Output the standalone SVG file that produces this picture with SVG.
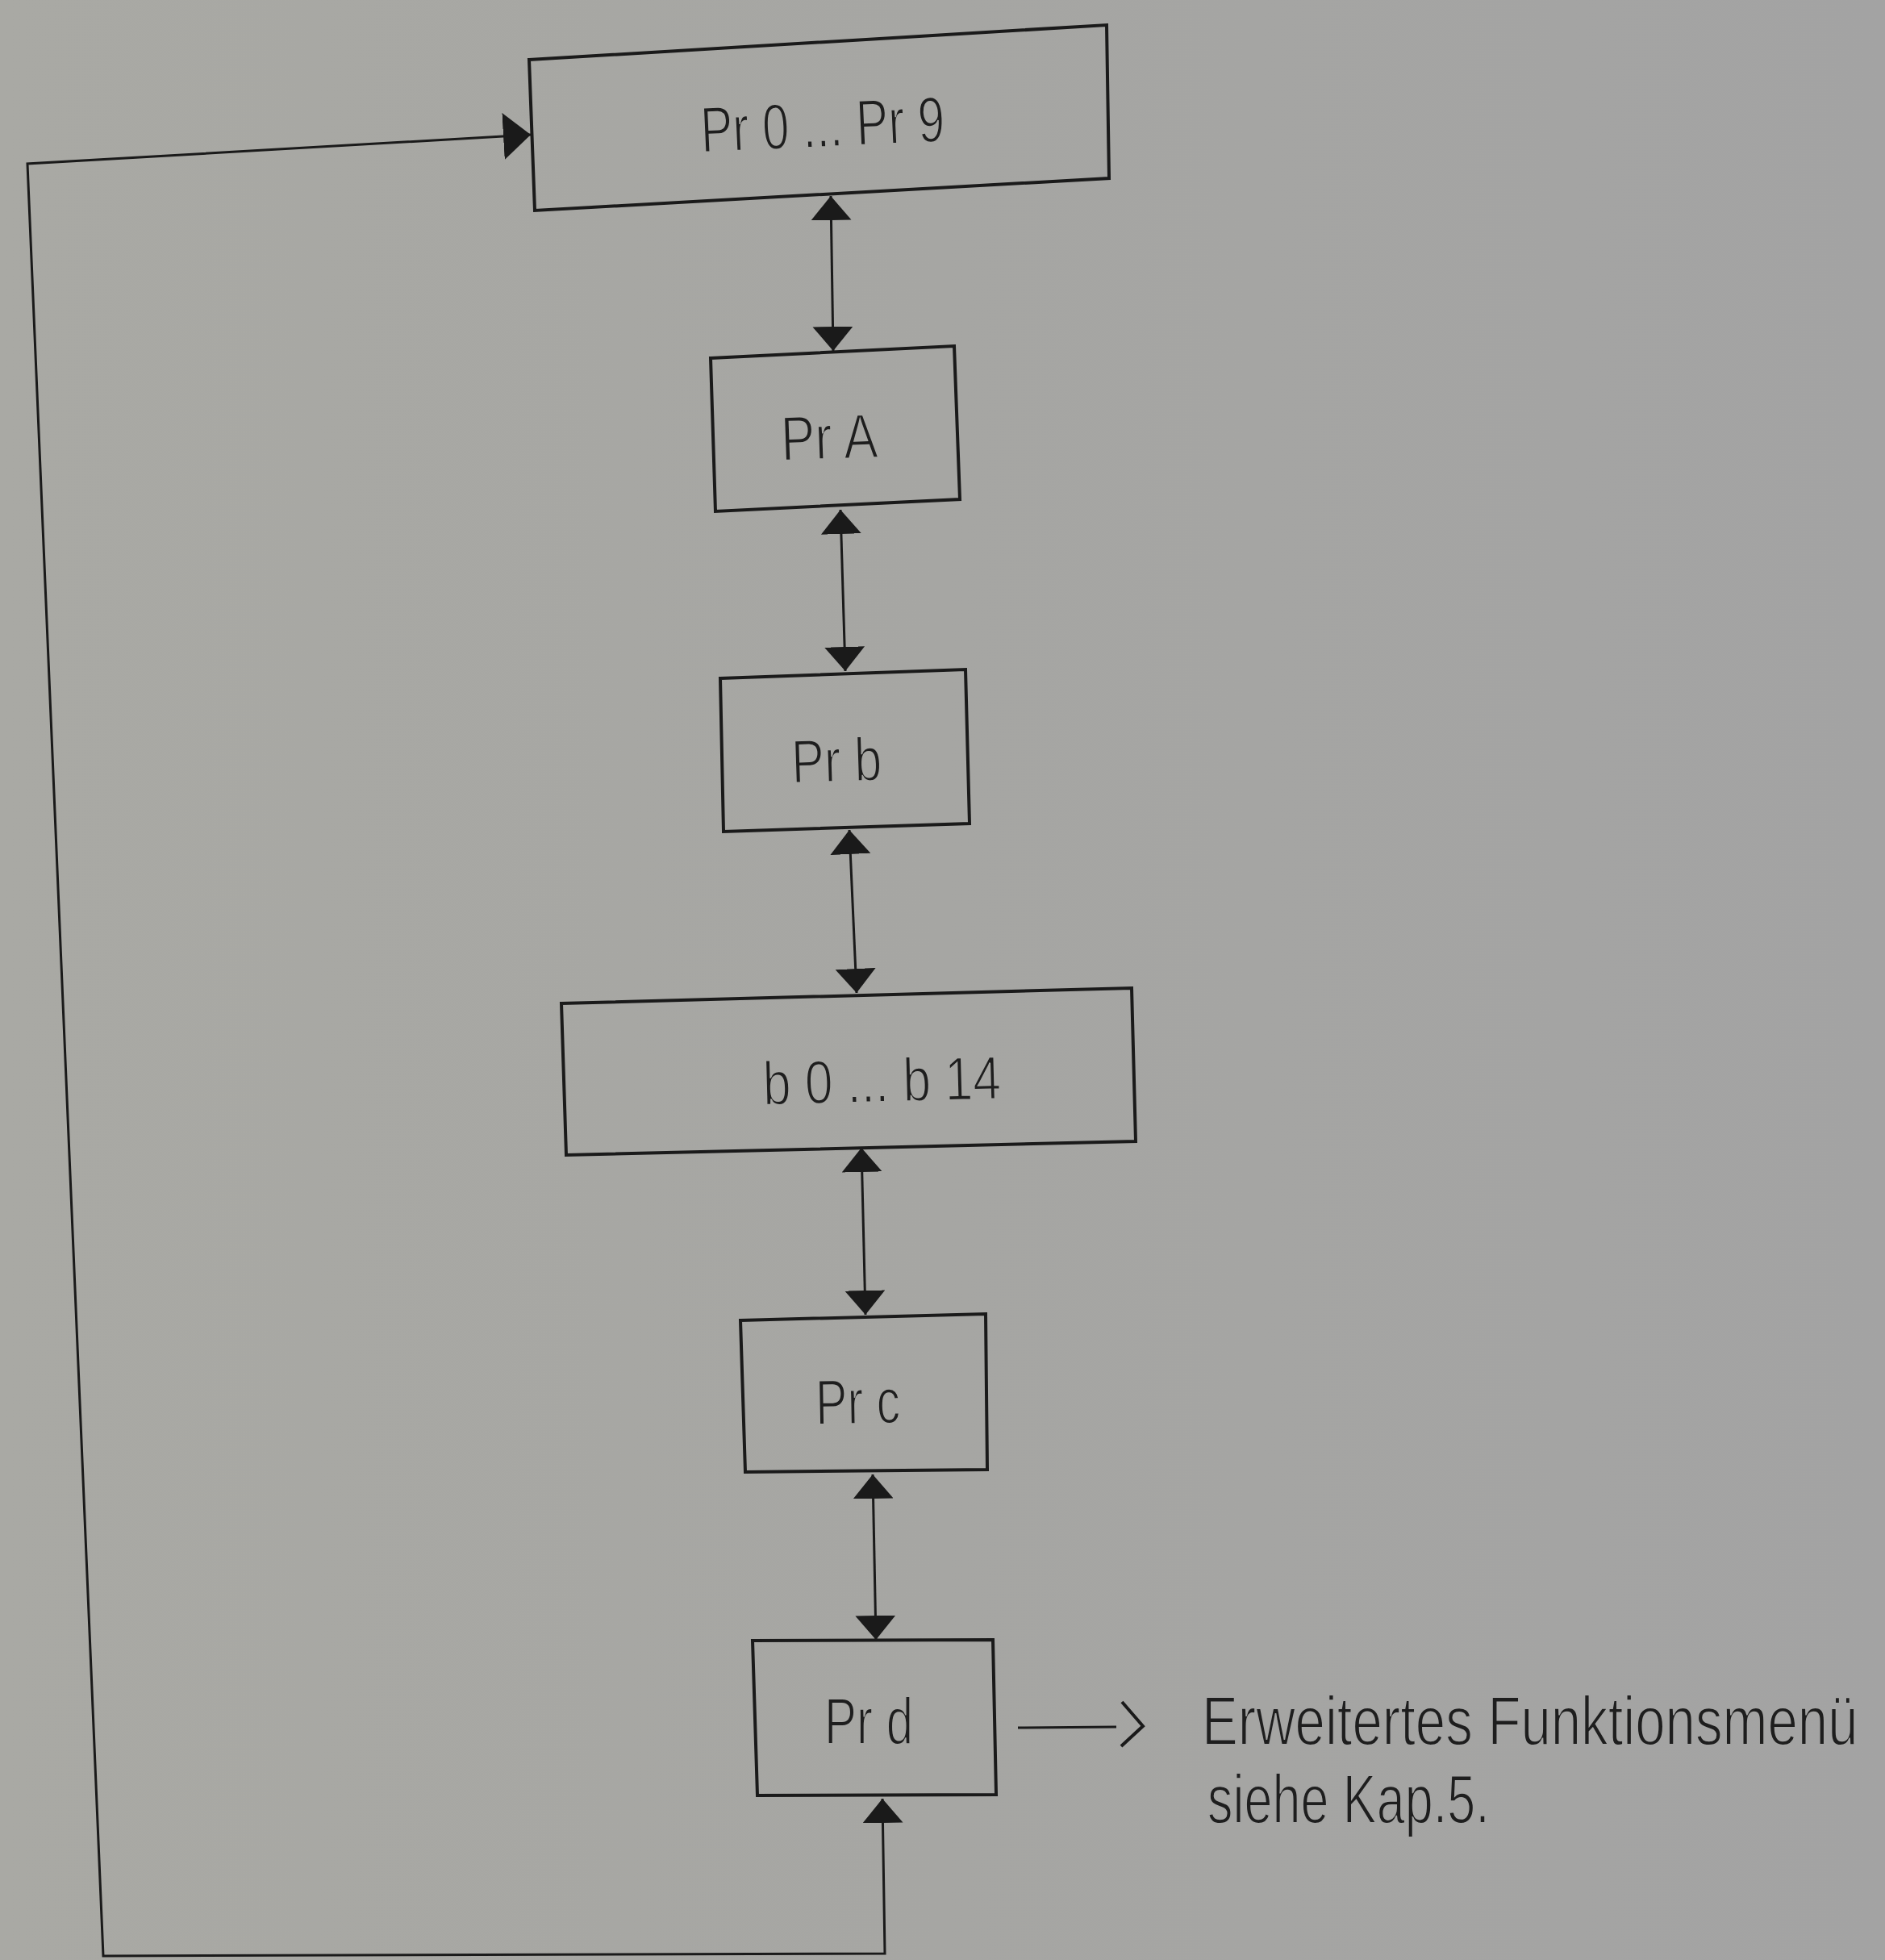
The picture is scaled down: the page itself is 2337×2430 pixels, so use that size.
<svg xmlns="http://www.w3.org/2000/svg" width="2337" height="2430" viewBox="0 0 2337 2430">
<defs>
<linearGradient id="bg" gradientUnits="userSpaceOnUse" x1="0" y1="0" x2="2337" y2="0">
<stop offset="0" stop-color="#a9a9a4"/>
<stop offset="0.5" stop-color="#a6a6a3"/>
<stop offset="1" stop-color="#a3a3a3"/>
</linearGradient>
<marker id="ah" markerUnits="userSpaceOnUse" markerWidth="32" markerHeight="52" refX="30" refY="25" orient="auto-start-reverse" viewBox="0 0 32 52">
<path d="M0,0 L30,25 L0,50 Z" fill="#1a1a1a"/>
</marker>
<marker id="ahBig" markerUnits="userSpaceOnUse" markerWidth="36" markerHeight="60" refX="34" refY="29" orient="auto" viewBox="0 0 36 60">
<path d="M0,0 L34,29 L0,58 Z" fill="#1a1a1a"/>
</marker>
</defs>
<style>
.box{fill:none;stroke:#1a1a1a;stroke-width:4;stroke-linejoin:miter}
.lbl{font-family:"Liberation Sans",Arial,sans-serif;fill:#1e1e1e;text-anchor:middle;stroke:url(#bg);stroke-width:2}
.note{font-family:"Liberation Sans",Arial,sans-serif;fill:#1e1e1e;stroke:#a4a4a3;stroke-width:2}
.con{fill:none;stroke:#1a1a1a;stroke-width:3}
</style>
<rect x="0" y="0" width="2337" height="2430" fill="url(#bg)"/>

<g id="connectors">
<line class="con" x1="1030" y1="243" x2="1033" y2="435" marker-start="url(#ah)" marker-end="url(#ah)"/>
<line class="con" x1="1042" y1="632" x2="1048" y2="832" marker-start="url(#ah)" marker-end="url(#ah)"/>
<line class="con" x1="1053" y1="1029" x2="1062" y2="1231" marker-start="url(#ah)" marker-end="url(#ah)"/>
<line class="con" x1="1068" y1="1423" x2="1073" y2="1630" marker-start="url(#ah)" marker-end="url(#ah)"/>
<line class="con" x1="1082" y1="1828" x2="1086" y2="2033" marker-start="url(#ah)" marker-end="url(#ah)"/>
<path class="con" d="M1094,2230 L1097,2422 L128,2425 L34,203 L658,167" marker-start="url(#ah)" marker-end="url(#ahBig)"/>
<g id="side-arrow">
<line class="con" x1="1262" y1="2142" x2="1384" y2="2141"/>
<polyline class="con" style="stroke-width:4" points="1391,2110 1417,2140 1390,2165"/>
</g>
</g>

<g id="node-pr0-pr9">
<polygon class="box" points="656,74 1372,31 1375,221 663,261"/>
<text class="lbl" x="1021" y="182" font-size="80" textLength="303" lengthAdjust="spacingAndGlyphs" transform="rotate(-2.6 1021 182)">Pr 0 ... Pr 9</text>
</g>
<g id="node-prA">
<polygon class="box" points="881,444 1183,429 1190,619 887,634"/>
<text class="lbl" x="1029" y="569" font-size="78" textLength="120" lengthAdjust="spacingAndGlyphs" transform="rotate(-2 1029 569)">Pr A</text>
</g>
<g id="node-prb">
<polygon class="box" points="893,841 1197,830 1202,1021 897,1031"/>
<text class="lbl" x="1038" y="969" font-size="76" textLength="112" lengthAdjust="spacingAndGlyphs" transform="rotate(-1.8 1038 969)">Pr b</text>
</g>
<g id="node-b0-b14">
<polygon class="box" points="696,1244 1403,1225 1408,1415 702,1432"/>
<text class="lbl" x="1094" y="1366" font-size="76" textLength="295" lengthAdjust="spacingAndGlyphs" transform="rotate(-1.5 1094 1366)">b 0 ... b 14</text>
</g>
<g id="node-prc">
<polygon class="box" points="918,1637 1222,1629 1224,1822 924,1825"/>
<text class="lbl" x="1064" y="1765" font-size="79" textLength="105" lengthAdjust="spacingAndGlyphs" transform="rotate(-1 1064 1765)">Pr c</text>
</g>
<g id="node-prd">
<polygon class="box" points="933,2034 1231,2033 1235,2225 939,2226"/>
<text class="lbl" x="1077" y="2162" font-size="81" textLength="110" lengthAdjust="spacingAndGlyphs">Pr d</text>
</g>

<g id="note">
<text class="note" font-size="85" transform="translate(1490 2163) scale(0.79 1)" x="0" y="0">Erweitertes Funktionsmenü</text>
<text class="note" font-size="85" transform="translate(1497 2260) scale(0.74 1)" x="0" y="0">siehe Kap.5.</text>
</g>
</svg>
